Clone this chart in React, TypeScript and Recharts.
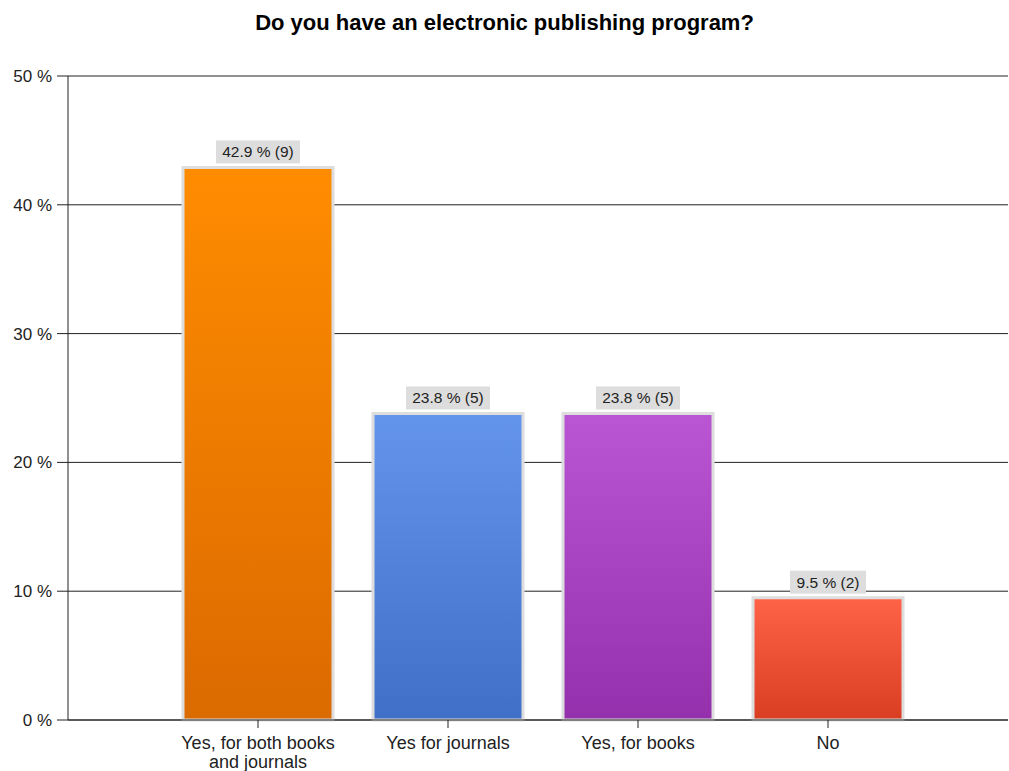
import React from "react";
import { BarChart, Bar, XAxis, YAxis, CartesianGrid, Cell, LabelList } from "recharts";

const categories = ["Yes, for both books and journals", "Yes for journals", "Yes, for books", "No"];
const percentages = [42.9, 23.8, 23.8, 9.5];
const counts = [9, 5, 5, 2];
const yTicks = [0, 10, 20, 30, 40, 50];
const topColors = ["#FF8C00", "#6495ED", "#BA55D3", "#FF6347"];
const bottomColors = ["#DB6A00", "#3F6FC6", "#9530AD", "#DA3E22"];

const data = categories.map((name, i) => ({ name, value: percentages[i], count: counts[i] }));

const FONT = "'Liberation Sans', Arial, sans-serif";

function wrapWords(s: string, maxChars: number): string[] {
  const words = s.split(" ");
  const lines: string[] = [];
  let cur = "";
  for (const w of words) {
    const next = cur ? cur + " " + w : w;
    if (next.length > maxChars && cur) {
      lines.push(cur);
      cur = w;
    } else {
      cur = next;
    }
  }
  if (cur) lines.push(cur);
  return lines;
}

const XTick = (props: any) => {
  const { x, y, payload } = props;
  const lines = wrapWords(String(payload.value), 20);
  return (
    <text x={x} y={y + 19} textAnchor="middle" fontSize={18} fontFamily={FONT} fill="#222">
      {lines.map((l, i) => (
        <tspan key={i} x={x} dy={i === 0 ? 0 : 19}>
          {l}
        </tspan>
      ))}
    </text>
  );
};

const BarLabel = (props: any) => {
  const { x, y, width, index } = props;
  const txt = `${percentages[index]} % (${counts[index]})`;
  const w = txt.length * 8 + 4;
  const cx = x + width / 2;
  const bottom = y - 4;
  return (
    <g>
      <rect x={cx - w / 2} y={bottom - 23} width={w} height={23} fill="#DDDDDD" />
      <text x={cx} y={bottom - 6} textAnchor="middle" fontSize={15.5} fontFamily={FONT} fill="#222">
        {txt}
      </text>
    </g>
  );
};

export default function App() {
  return (
    <div style={{ position: "absolute", left: 0, top: 0, width: 1009, height: 771, overflow: "hidden", background: "#fff" }}>
      <div
        style={{
          position: "absolute",
          top: 10,
          left: 0,
          width: 1009,
          textAlign: "center",
          fontFamily: FONT,
          fontWeight: "bold",
          fontSize: 22,
          color: "#000",
        }}
      >
        Do you have an electronic publishing program?
      </div>
      <BarChart width={1009} height={771} data={data} margin={{ top: 76, right: 1, bottom: 0, left: 0 }}>
        <defs>
          {topColors.map((c, i) => (
            <linearGradient key={i} id={`g${i}`} x1="0" y1="0" x2="0" y2="1">
              <stop offset="0%" stopColor={c} />
              <stop offset="100%" stopColor={bottomColors[i]} />
            </linearGradient>
          ))}
        </defs>
        <CartesianGrid vertical={false} stroke="#222" />
        <XAxis
          dataKey="name"
          height={51}
          padding={{ left: 95, right: 85 }}
          tickSize={8}
          axisLine={{ stroke: "#222" }}
          tickLine={{ stroke: "#222" }}
          tick={<XTick />}
          interval={0}
        />
        <YAxis
          width={68}
          domain={[0, 50]}
          ticks={yTicks}
          tickSize={11}
          tickMargin={5}
          axisLine={{ stroke: "#222" }}
          tickLine={{ stroke: "#222" }}
          tick={{ fill: "#222", fontSize: 17, fontFamily: FONT }}
          tickFormatter={(v: number) => `${v} %`}
        />
        <Bar dataKey="value" barSize={150} stroke="#DDDDDD" strokeWidth={3} isAnimationActive={false}>
          {data.map((d, i) => (
            <Cell key={i} fill={`url(#g${i})`} />
          ))}
          <LabelList dataKey="value" content={<BarLabel />} />
        </Bar>
      </BarChart>
    </div>
  );
}
